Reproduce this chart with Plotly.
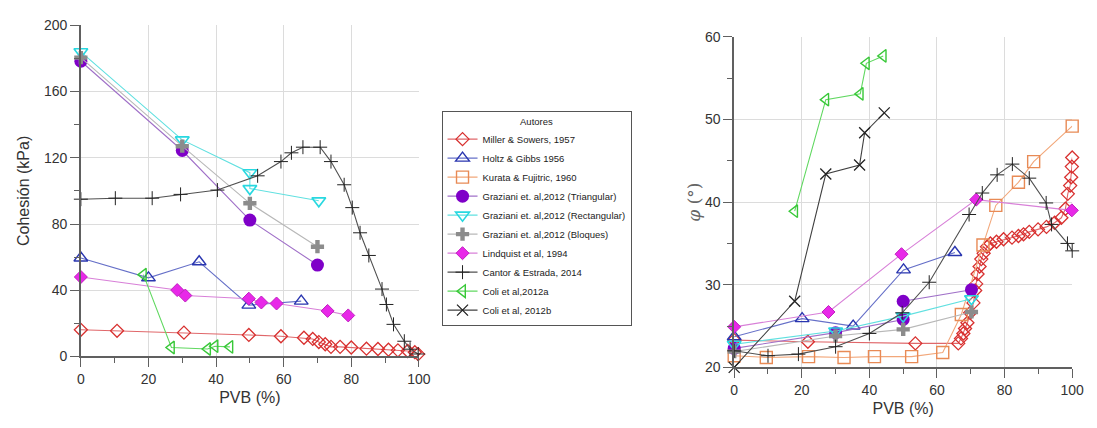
import plotly.graph_objects as go

# ---------------- data ----------------
series_names = ["Miller & Sowers, 1957", "Holtz & Gibbs 1956", "Kurata & Fujitric, 1960",
                "Graziani et. al,2012 (Triangular)", "Graziani et. al,2012 (Rectangular)",
                "Graziani et. al,2012 (Bloques)", "Lindquist et al, 1994",
                "Cantor & Estrada, 2014", "Coli et al,2012a", "Coli et al, 2012b"]

# Left panel: cohesion (kPa) vs PVB (%)
miller_c_x = [0, 10.7, 30.5, 49.7, 59.2, 66, 68.6, 70.4, 72.3, 74, 76.7, 80, 84.5, 87.9, 91, 93.8, 96.7, 98.8, 99.8]
miller_c_y = [16.1, 15.5, 14.4, 13, 12.2, 11.3, 10.6, 8.7, 7.4, 5.8, 5.8, 5.4, 4.7, 4.5, 4.1, 3.7, 3.3, 2.6, 1.4]
holtz_c_x = [0, 20, 35, 49.7, 65.2]
holtz_c_y = [59.5, 47.5, 57.2, 31, 33.4]
tri_c_x = [0, 30, 50, 70]
tri_c_y = [178.3, 124.4, 82.4, 55.2]
rect_c_x = [0, 30, 50, 50, 70.4]
rect_c_y = [184, 130.8, 111, 101.4, 94]
bloq_c_x = [0, 30, 50, 70]
bloq_c_y = [180.5, 127, 92.5, 66.3]
lind_c_x = [0, 28.5, 30.9, 49.7, 53.4, 57.9, 73, 79.1]
lind_c_y = [48, 40.1, 36.8, 34.9, 32.6, 32, 27.5, 24.8]
cantor_c_x = [0, 10.2, 21.1, 29.5, 40.4, 52.3, 59.2, 62.3, 65.7, 70.8, 74, 77.9, 80.3, 82.6, 85.2, 89.1, 90.4, 92.5, 95.7, 97.4, 99.8]
cantor_c_y = [95, 95.6, 95.6, 97.9, 100.5, 109.1, 117.7, 123, 126.4, 126.4, 117.7, 103.7, 89.9, 74.7, 61, 40.7, 31.4, 19.4, 9.2, 4.4, 1.5]
colia_c_x = [18.5, 26.8, 37.5, 39.7, 44.1]
colia_c_y = [49.4, 5.4, 4.5, 6.2, 5.8]

# Right panel: friction angle (deg) vs PVB (%)
miller_f_x = [0, 21.8, 53.6, 66.3, 67.1, 67.8, 68.3, 69, 69.8, 70.8, 71.3, 71.6, 72, 72.6, 73.1, 73.8, 74.8, 75.8,
              77.6, 79.7, 82.2, 84.1, 85.6, 87.3, 89.9, 92.4, 94.8, 96.8, 98, 98.7, 99.4, 99.7, 99.9, 100]
miller_f_y = [23.3, 23.1, 22.9, 22.9, 23.5, 24.1, 24.7, 25.4, 26.6, 27.8, 29.3, 30.1, 31.3, 32.2, 33.1, 33.8, 34.6, 35,
              35.2, 35.5, 35.7, 35.9, 36.1, 36.4, 36.7, 37, 37.5, 38.1, 39.2, 41, 42, 43, 44.3, 45.4]
holtz_f_x = [0, 20.1, 35.2, 50.1, 65.3]
holtz_f_y = [23.7, 25.9, 25, 31.8, 33.9]
kurata_f_x = [0, 9.5, 22, 32.5, 41.5, 52.5, 61.7, 67.2, 73.6, 77.4, 84.1, 88.6, 100]
kurata_f_y = [21.4, 21.2, 21.3, 21.2, 21.3, 21.3, 21.8, 26.4, 34.8, 39.6, 42.4, 44.9, 49.2]
tri_f_x = [0, 30, 50, 50, 70.2]
tri_f_y = [22.3, 24.2, 25.8, 28, 29.4]
rect_f_x = [0, 30, 50, 70.2]
rect_f_y = [22.8, 24.4, 26.2, 28.3]
bloq_f_x = [0, 30, 50, 70.2]
bloq_f_y = [21.9, 23.8, 24.6, 26.7]
lind_f_x = [0, 27.9, 49.5, 71.6, 99.9]
lind_f_y = [24.9, 26.7, 33.7, 40.3, 39.0]
cantor_f_x = [0, 10, 19, 30, 40, 49.7, 57.7, 69.5, 73.4, 77.8, 82.3, 87.3, 92.3, 93.9, 98.6, 100]
cantor_f_y = [22, 21.4, 21.6, 22.5, 24.1, 26.6, 30.3, 38.5, 41.1, 43.3, 44.6, 42.9, 39.9, 37.3, 35, 34.1]
colia_f_x = [17.9, 27.1, 37.3, 39.1, 44.1]
colia_f_y = [38.9, 52.4, 53.1, 56.8, 57.7]
colib_f_x = [0, 17.9, 27.1, 37.1, 38.6, 44.4]
colib_f_y = [20, 28, 43.4, 44.5, 48.4, 50.8]

left_data = [(miller_c_x, miller_c_y), (holtz_c_x, holtz_c_y), None, (tri_c_x, tri_c_y),
             (rect_c_x, rect_c_y), (bloq_c_x, bloq_c_y), (lind_c_x, lind_c_y),
             (cantor_c_x, cantor_c_y), (colia_c_x, colia_c_y), None]
right_data = [(miller_f_x, miller_f_y), (holtz_f_x, holtz_f_y), (kurata_f_x, kurata_f_y),
              (tri_f_x, tri_f_y), (rect_f_x, rect_f_y), (bloq_f_x, bloq_f_y),
              (lind_f_x, lind_f_y), (cantor_f_x, cantor_f_y), (colia_f_x, colia_f_y),
              (colib_f_x, colib_f_y)]

# ---------------- styles ----------------
styles = [
    dict(line="#E0676A", mcol="#D8302F", mline="#D8302F", sym="diamond-open", size=10, lw=1.3),
    dict(line="#6670C8", mcol="#2A36B0", mline="#2A36B0", sym="triangle-up-open", size=12, lw=1.4),
    dict(line="#F2A77A", mcol="#E88A55", mline="#E88A55", sym="square-open", size=12, lw=1.4),
    dict(line="#A070C8", mcol="#7F00C8", mline="#7F00C8", sym="circle", size=13, lw=0),
    dict(line="#60E0E0", mcol="#28D8E0", mline="#28D8E0", sym="triangle-down-open", size=12, lw=1.6),
    dict(line="#B8B8B8", mcol="#8C8C8C", mline="#8C8C8C", sym="cross", size=11, lw=0),
    dict(line="#D880D8", mcol="#E828E8", mline="#C020C0", sym="diamond", size=10, lw=1),
    dict(line="#505050", mcol="#222222", mline="#222222", sym="cross-thin", size=10, lw=1),
    dict(line="#60D860", mcol="#38C838", mline="#38C838", sym="triangle-left-open", size=11, lw=1.4),
    dict(line="#404040", mcol="#222222", mline="#222222", sym="x-thin", size=11, lw=1.3),
]

fig = go.Figure()

for i, name in enumerate(series_names):
    st = styles[i]
    shown = False
    for data, xa, ya in [(left_data[i], "x", "y"), (right_data[i], "x2", "y2")]:
        if data is None:
            continue
        fig.add_trace(go.Scatter(
            x=data[0], y=data[1], mode="lines+markers", name=name,
            legendgroup=name, showlegend=not shown, xaxis=xa, yaxis=ya, cliponaxis=False,
            line=dict(color=st["line"], width=1.1),
            marker=dict(symbol=st["sym"], size=st["size"], color=st["mcol"],
                        line=dict(color=st["mline"], width=st["lw"])),
        ))
        shown = True

font_fam = "Liberation Sans, Arial, sans-serif"
tick_font = dict(family=font_fam, size=14, color="#333333")
title_font = dict(family=font_fam, size=16, color="#333333")

common_x = dict(range=[0, 100], dtick=20, tick0=0, showgrid=True, gridcolor="#DCDCDC", gridwidth=1,
                showline=True, linecolor="#606060", linewidth=1.5, ticks="outside", ticklen=9,
                tickcolor="#606060", tickwidth=1, tickfont=tick_font, zeroline=False,
                minor=dict(dtick=10, ticks="outside", ticklen=5, tickcolor="#606060", showgrid=False),
                title=dict(text="PVB (%)", font=title_font, standoff=6))

fig.update_layout(
    width=1097, height=428,
    paper_bgcolor="white", plot_bgcolor="white",
    margin=dict(l=0, r=0, t=0, b=0),
    font=dict(family=font_fam),
    xaxis=dict(domain=[78 / 1097, 421 / 1097], anchor="y", **common_x),
    yaxis=dict(domain=[1 - 362 / 428, 1 - 18 / 428], anchor="x", range=[0, 200], dtick=40,
               showgrid=True, gridcolor="#DCDCDC", showline=True, linecolor="#606060", linewidth=1.5,
               ticks="outside", ticklen=9, tickcolor="#606060", tickfont=tick_font, zeroline=False,
               minor=dict(dtick=20, ticks="outside", ticklen=5, tickcolor="#606060", showgrid=False),
               title=dict(text="Cohesión (kPa)", font=title_font, standoff=10)),
    xaxis2=dict(domain=[741 / 1097, 1084 / 1097], anchor="y2", **common_x),
    yaxis2=dict(domain=[1 - 373.3 / 428, 1 - 30 / 428], anchor="x2", range=[20, 60], dtick=10,
                showgrid=True, gridcolor="#DCDCDC", showline=True, linecolor="#606060", linewidth=1.5,
                ticks="outside", ticklen=9, tickcolor="#606060", tickfont=tick_font, zeroline=False,
                minor=dict(dtick=5, ticks="outside", ticklen=5, tickcolor="#606060", showgrid=False),
                title=dict(text="<i>φ</i> (°)", font=dict(family="DejaVu Serif", size=17, color="#666666"),
                           standoff=0)),
    legend=dict(x=444 / 1097, y=1 - 219 / 428, xanchor="left", yanchor="middle",
                bgcolor="white", bordercolor="#555555", borderwidth=1,
                font=dict(family=font_fam, size=9.5, color="#222222"),
                title=dict(text="Autores", side="top center", font=dict(family=font_fam, size=9.5, color="#222222")),
                tracegroupgap=0, itemwidth=30),
)

fig.write_html("out.html")
